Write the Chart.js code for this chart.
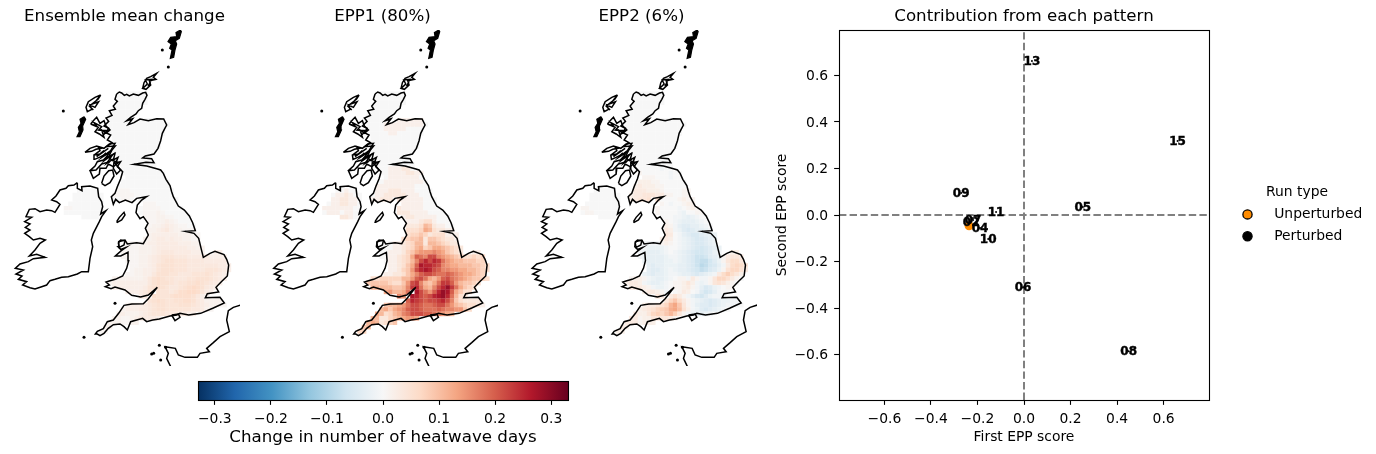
<!DOCTYPE html>
<html><head><meta charset="utf-8">
<style>html,body{margin:0;background:#fff;overflow:hidden}canvas{position:absolute}</style>
<script src="https://cdn.jsdelivr.net/npm/chart.js@4"></script></head>
<body>
<canvas id="m1" style="left:0;top:0" width="249" height="370"></canvas>
<canvas id="m2" style="left:258px;top:0" width="249" height="370"></canvas>
<canvas id="m3" style="left:517px;top:0" width="249" height="370"></canvas>
<canvas id="cb" style="left:180px;top:370px" width="400" height="84"></canvas>
<canvas id="sc" style="left:760px;top:0" width="616" height="454"></canvas>
<script>
const panelTitles=["Ensemble mean change","EPP1 (80%)","EPP2 (6%)"];
const colourbarLabel="Change in number of heatwave days";
const colourbarTicks=[-0.3,-0.2,-0.1,0,0.1,0.2,0.3];
const colourLimit=0.33;
const rdBuStops=["#053061","#2166ac","#4393c3","#92c5de","#d1e5f0","#f7f7f7","#fddbc7","#f4a582","#d6604d","#b2182b","#67001f"];

// Cell values: '.' no data, digits/letters are levels; lower case a=10.., upper case A=-1..; level x step = value
const ensembleStep=0.007, epp1Step=0.018, epp2Step=0.01;
const northRows=[
".....0000000",".....0000000",".....0000000","....0000000","....000000","...000000","...00000..000000",
"...00000000000000","...0000000000000","...0000000000000","....00000000000","....00000000000","....00000000000",
"....0000000000",".....00000000",".....00000000",".....000000000"];
const ensembleRows=northRows.concat([
"......00000000","......0000000000",".......000000000","......00000000000",".....000000000000",
".....1110000000000","....11111000000000","....00110.000000000","...........11100000",
"..........0111100000","..........01112100000","...........11122110000","............1122321000",
"............12234321100","............22345322111","............233333322211","...........2234434332211",
".......11112334444433322",".......111222344444443322","......1111222345554444332..33",
"......111122345666555444443333",".......11122345677666555544444","........11223467776665555555443",
"........12233467776665555666543",".......11223357776655566676543","....22222223578766555667776543",
"...23333333357877656677876543","....333333346787655678987543",".......333457.7665688998643",
"..........45.8766788887532","............67876677887542222",".......23334567766677765432211",
"......233344567766666655421",".....332223456665554433","....22112344443","...2221122","..22",".11"]);
const epp1Rows=[
".....0000000",".....0000000",".....0000000","....0000000","....000000","...000000","...00000..111111",
"...00001111111110","...0000111110000","...0000011000000","....00000000000","....00000000000","....00000000000",
"....0000000000",".....00000000",".....00000000",".....000000000",
"......00111220","......0011112211",".......011111110","......01111111110",".....111111111000",
".....1112221110000","....01122222111000","....11222.211111000","...........11111000",
"..........2111110000","..........22211110000","...........12211111000","............1112331000",
"............22236521100","............33347632211","............344542333111","...........3455625543221",
".......00112346626654322",".......001123467457765432","......0011124578889875432..11",
"......00112347ba9cc98765433434",".......01123469ceceda876655544","........112357bfeedc98776665543",
"........112458cefecb99887766543",".......11223579bccbaaba9877654","....3344444668bca768bca98765543",
"...5555543358cd9657addb865543","....666665569dea769cegda7543",".......78667a.fca8begfb7533",
"..........98.fecbcefgea632","............bedcbccdec9532222",".......56678accbaabcca86543321",
"......675789bccbaaaba998853",".....7634679acccbba9876","....66224567887","...6762345","..56",".44"];
const epp2Rows=northRows.concat([
"......00000A00","......1000000A00",".......111000A00","......22211000000",".....232221100000",
".....3332221000011","....23344433110011","....23445.500001211","...........10A00122",
"..........10000A0121","..........10000AB0011","...........000AABCBA00","............10ABCCCBA0",
"............21ACDDCCBA0","............32ABDEDCCBA","............430ACDEEDCCB","...........2320ABCDEEDCB",
".......AAAA1210ABCDEEDCB",".......ABBBBA00ABCDEFEDCB","......ABCCCBA0ABCDEFFEDBA..22",
"......ABCCCCBAABCDEGGFDCB13443",".......BCCCCBBABCDEGHHFDB14664","........CDCCBBBCCDEGIHFECA36764",
"........CDDCBABCCDEFHGEDB157753",".......BCDCCBAABCCDEDCBA368642","....1221ABCCBA011A31AA14775310",
"...2332ABCCBA011242ABA1454210","....33321ABBA011231ACEDBA011",".......23321A.01320ADFECA00",
"..........43.3531ACEFDBAAA","............479631ABCDEDCBBAA",".......233457bd941ACDDEDCBAAA0",
"......2345789cda52ABDEDCBA0",".....32247879b841ABCCBA","....33122444431","...3331222","..32",".22"]);
// Northern Ireland block: begins at grid row 22, seven columns west of Great Britain block
const niEnsemble=["...00000.","..0000000","..0000000",".00000000","110000000","000000000","....0000."];
const niEpp1=["...00100.","..0112100","..1122110",".01122110","111111100","011101100","....2210."];
const niEpp2=["...00000.","..0000000","..0000000",".00000000","110000000","011000000","....0000."];

// Coast outlines in map units
const coastGB=[[350,222],[358,216],[365,219],[373,226],[380,223],[388,228],[400,222],[415,226],[428,219],[437,217],[441,226],[435,238],[428,250],[425,265],[415,272],[408,282],[392,292],[380,302],[398,296],[384,314],[402,308],[420,297],[445,302],[470,296],[491,297],[500,315],[493,328],[487,340],[482,362],[474,385],[462,402],[436,408],[428,414],[455,416],[462,428],[438,427],[402,433],[440,438],[470,446],[482,450],[490,460],[498,478],[510,497],[515,515],[520,530],[535,558],[553,570],[568,588],[578,608],[586,632],[556,634],[582,640],[596,655],[604,688],[610,712],[630,700],[645,694],[672,704],[680,718],[686,735],[682,768],[664,785],[648,802],[656,816],[622,821],[616,833],[660,832],[673,849],[640,864],[602,880],[566,885],[540,880],[530,885],[510,888],[478,897],[458,900],[440,905],[428,895],[410,900],[392,905],[382,930],[372,920],[360,912],[340,914],[325,925],[312,940],[300,947],[292,942],[286,942],[292,934],[310,926],[322,905],[340,900],[356,880],[372,856],[396,852],[430,851],[445,836],[472,802],[445,825],[422,831],[395,826],[375,810],[345,801],[333,806],[316,800],[328,795],[318,786],[330,782],[346,778],[368,768],[380,745],[386,722],[384,697],[362,708],[346,708],[364,692],[378,682],[362,688],[354,680],[356,665],[375,660],[382,672],[410,668],[430,671],[445,645],[436,625],[444,610],[430,590],[420,596],[408,578],[412,555],[425,540],[440,530],[410,535],[396,548],[376,540],[358,548],[347,538],[340,553],[334,530],[345,520],[352,500],[362,476],[368,455],[352,440],[362,425],[348,428],[354,412],[340,420],[345,400],[326,410],[336,390],[346,378],[320,380],[336,368],[322,360],[332,345],[318,338],[326,325],[312,318],[326,304],[318,294],[336,286],[328,272],[346,268],[340,258],[352,244],[345,238],[350,222]];
const coastIreland=[[232,488],[222,495],[205,497],[198,505],[180,510],[168,528],[155,540],[170,545],[180,553],[172,566],[165,577],[155,572],[140,570],[120,575],[105,566],[88,568],[78,590],[95,592],[74,605],[90,612],[76,622],[90,630],[74,640],[88,650],[100,660],[120,655],[136,660],[120,670],[105,690],[88,708],[110,703],[135,712],[100,716],[85,725],[60,732],[46,745],[70,750],[48,762],[66,768],[55,778],[80,785],[68,795],[90,803],[105,807],[125,800],[140,795],[150,782],[165,778],[185,772],[205,770],[232,762],[245,755],[265,755],[270,715],[278,680],[274,660],[280,640],[298,605],[305,590],[318,572],[302,582],[308,560],[305,545],[296,530],[293,505],[270,498],[245,500],[246,512],[232,505],[232,488]];
const coastMan=[[350,605],[358,592],[372,577],[375,585],[365,600],[352,607],[350,605]];
const coastWight=[[515,885],[535,882],[540,892],[525,902],[515,885]];
const coastAnglesey=[[355,668],[362,660],[375,662],[372,675],[358,682],[355,668]];
const coastHebrides=[[302,225],[285,232],[265,245],[258,262],[262,275],[275,268],[270,255],[285,262],[296,245],[282,250],[302,225],[294,238],[268,258],[280,270]];
const coastSkye=[[272,312],[282,300],[290,292],[300,310],[312,302],[318,318],[330,330],[318,340],[305,330],[312,352],[298,342],[285,335],[295,322],[272,312],[290,318],[282,308],[305,320],[296,330],[322,332],[310,345]];
const coastMull=[[255,397],[270,385],[290,378],[303,385],[288,388],[275,394],[255,397]];
const coastArgyll=[[282,405],[300,392],[296,380],[312,385],[328,372],[345,370],[332,392],[318,402],[298,412],[284,418],[282,405],[300,402],[312,392],[290,410],[325,385]];
const coastLorn=[[318,398],[305,412],[330,396],[312,422],[338,404],[320,430],[342,416]];
const coastJura=[[270,452],[285,438],[292,425],[310,420],[322,408],[335,420],[355,428],[340,440],[325,432],[318,445],[300,445],[298,462],[280,475],[270,452],[288,450],[305,432],[330,425]];
const coastKintyre=[[305,490],[312,468],[326,452],[338,450],[342,468],[330,488],[315,497],[305,490]];
const coastBute=[[342,425],[352,438],[362,450],[350,462],[340,445],[342,425]];
const coastOrkney=[[428,205],[432,188],[440,175],[452,170],[470,160],[460,172],[468,178],[448,182],[452,195],[438,208],[428,205],[442,192],[436,180],[455,178],[444,200]];
const coastFrance=[[722,855],[700,862],[685,872],[680,900],[688,935],[660,950],[640,968],[620,985],[628,995],[600,1000],[592,1012],[555,1012],[535,1005],[526,985],[495,980],[505,1000],[500,1015],[512,1040]];
const coastUist=[[252,290],[240,298],[243,310],[235,322],[238,335],[231,350],[240,350],[249,330],[248,318],[257,298],[252,290]];
const coastShetland=[[541,30],[528,38],[530,50],[512,52],[504,65],[514,72],[509,85],[516,90],[511,115],[521,112],[525,90],[530,72],[526,62],[538,55],[544,35],[541,30]];
const smallIslands=[[190,273],[487,90],[505,141],[345,850],[252,952],[461,1000],[455,1002],[478,976],[482,1020],[497,982]];
const coasts=[coastGB,coastIreland,coastMan,coastWight,coastAnglesey,coastHebrides,coastSkye,coastMull,coastArgyll,coastLorn,coastJura,coastKintyre,coastBute,coastOrkney,coastFrance];
const solidIslands=[coastUist,coastShetland];

// Contribution panel
const scatterTitle="Contribution from each pattern";
const xLabel="First EPP score", yLabel="Second EPP score";
const legendTitle="Run type", legendNames=["Unperturbed","Perturbed"];
const memberNames=["02","04","05","06","07","08","09","10","11","13","15"];
const memberX=[-0.227,-0.189,0.253,-0.004,-0.219,0.45,-0.27,-0.154,-0.12,0.034,0.66];
const memberY=[-0.030,-0.056,0.034,-0.31,-0.022,-0.585,0.095,-0.103,0.013,0.662,0.318];
const unperturbedX=[-0.236], unperturbedY=[-0.046];
const axisLimit=0.795;

const FONT="'DejaVu Sans'";
Chart.defaults.font.family=FONT;
Chart.defaults.color="#000";
Chart.defaults.animation=false;
Chart.defaults.responsive=false;

function lerpHex(a,b,t){const p=h=>[1,3,5].map(i=>parseInt(h.substr(i,2),16));const A=p(a),B=p(b);
  return "rgb("+A.map((v,i)=>Math.round(v+(B[i]-v)*t)).join(",")+")";}
function colourFor(v){let n=(v+colourLimit)/(2*colourLimit)*10;n=Math.max(0,Math.min(9.999,n));const i=Math.floor(n);
  return lerpHex(rdBuStops[i],rdBuStops[i+1],n-i);}
function level(c){if(c>="0"&&c<="9")return +c;if(c>="a"&&c<="z")return c.charCodeAt(0)-87;return -(c.charCodeAt(0)-64);}
const GX=284,GY=215,CELL=13.2;
function cells(rows,step,startCol,startRow){const out=[];rows.forEach((r,j)=>{[...r].forEach((c,i)=>{if(c===".")return;
  out.push({x:GX+(startCol+i+0.5)*CELL,y:GY+(startRow+j+0.5)*CELL,v:level(c)*step});});});return out;}
const toXY=a=>a.map(p=>({x:p[0],y:p[1]}));

const frame={id:"frame",afterDraw(ch){const a=ch.chartArea,c=ch.ctx;c.save();c.strokeStyle="#000";c.lineWidth=1.1;
  c.strokeRect(Math.round(a.left)+.5,Math.round(a.top)+.5,Math.round(a.right-a.left),Math.round(a.bottom-a.top));c.restore();}};

function mapChart(id,title,data,shift){
  const ds=[{type:"scatter",data:data,order:3,pointStyle:"rect",pointRadius:3.28,pointBorderWidth:0,pointHoverRadius:3.28,
      pointBackgroundColor:data.map(d=>colourFor(d.v))}];
  coasts.forEach(c=>ds.push({type:"scatter",showLine:true,data:toXY(c),order:1,borderColor:"#000",borderWidth:1.5,pointRadius:0,fill:false,tension:0}));
  solidIslands.forEach(c=>ds.push({type:"scatter",showLine:true,data:toXY(c),order:1,borderColor:"#000",backgroundColor:"#000",borderWidth:1.2,pointRadius:0,fill:"shape",tension:0}));
  ds.push({type:"scatter",data:toXY(smallIslands),order:1,pointRadius:1.5,pointBackgroundColor:"#000",pointBorderWidth:0});
  new Chart(document.getElementById(id),{type:"scatter",data:{datasets:ds},options:{
    layout:{padding:{left:9,right:9,bottom:4,top:0}},
    plugins:{legend:{display:false},tooltip:{enabled:false},
      title:{display:true,text:title,font:{size:16.67,weight:"normal"},padding:{top:6.5,bottom:3.5},color:"#000"}},
    scales:{x:{type:"linear",display:false,min:27-shift,max:720-shift},
            y:{type:"linear",display:false,reverse:true,min:30,max:1038}}}});
}
mapChart("m1",panelTitles[0],cells(ensembleRows,ensembleStep,0,0).concat(cells(niEnsemble,ensembleStep,-7,22)),0);
mapChart("m2",panelTitles[1],cells(epp1Rows,epp1Step,0,0).concat(cells(niEpp1,epp1Step,-7,22)),1.2);
mapChart("m3",panelTitles[2],cells(epp2Rows,epp2Step,0,0).concat(cells(niEpp2,epp2Step,-7,22)),-0.6);

// Colour bar
new Chart(document.getElementById("cb"),{type:"bar",
  data:{labels:[""],datasets:[{data:[[-colourLimit,colourLimit]],barPercentage:1,categoryPercentage:1,borderSkipped:false,
    backgroundColor(ctx){const a=ctx.chart.chartArea;if(!a)return "#fff";const g=ctx.chart.ctx.createLinearGradient(a.left,0,a.right,0);
      rdBuStops.forEach((c,i)=>g.addColorStop(i/10,c));return g;}}]},
  options:{indexAxis:"y",layout:{padding:{left:18,right:12,top:11,bottom:0}},
    plugins:{legend:{display:false},tooltip:{enabled:false}},
    scales:{y:{display:false},
      x:{type:"linear",min:-colourLimit,max:colourLimit,afterFit(s){s.height=54;},
        afterBuildTicks(s){s.ticks=colourbarTicks.map(v=>({value:v}));},
        grid:{drawOnChartArea:false,tickLength:4.86,tickColor:"#000",tickWidth:1.1},border:{display:false},
        ticks:{maxRotation:0,autoSkip:false,padding:6,font:{size:13.89},color:"#000",callback:v=>(v<0?"\u2212":"")+Math.abs(v).toFixed(1)},
        title:{display:true,text:colourbarLabel,font:{size:16.67},color:"#000",padding:{top:0,bottom:6}}}}},
  plugins:[frame]});

// Scatter
const memberLabelsPlugin={id:"memberLabels",afterDatasetsDraw(ch){const c=ch.ctx,x=ch.scales.x,y=ch.scales.y;c.save();
  c.font="bold 12px "+FONT;c.fillStyle="#000";c.strokeStyle="#000";c.lineWidth=0.4;c.textAlign="center";c.textBaseline="middle";
  memberNames.forEach((n,i)=>{const px=x.getPixelForValue(memberX[i]),py=y.getPixelForValue(memberY[i])+1;c.fillText(n,px,py);c.strokeText(n,px,py);});c.restore();}};
const legendPlace={id:"legendPlace",
  beforeLayout(ch){const l=ch.legend;if(l&&!l._fixed){const f=l.fit.bind(l);l.fit=function(){f();l.width=167;};l._fixed=true;}},
  afterLayout(ch){const l=ch.legend;l.left=473;l.width=128;l.right=601;l.top-=8.5;l.bottom-=8.5;}};
const axisOpts=(label,pad,labelShift)=>({type:"linear",min:-axisLimit,max:axisLimit,
  grid:{drawOnChartArea:false,tickLength:4.86,tickColor:"#000",tickWidth:1.1},border:{display:false},
  ticks:{stepSize:0.2,includeBounds:false,padding:6,labelOffset:labelShift,font:{size:13.89},color:"#000",maxRotation:0,
    callback:v=>(v<-0.001?"\u2212":"")+Math.abs(v).toFixed(1)},
  title:{display:true,text:label,font:{size:13.89},color:"#000",padding:pad}});
new Chart(document.getElementById("sc"),{type:"scatter",data:{datasets:[
  {label:legendNames[0],order:2,data:unperturbedX.map((v,i)=>({x:v,y:unperturbedY[i]})),pointRadius:4.5,pointBorderWidth:0,pointBackgroundColor:"#ff8c00",backgroundColor:"#ff8c00",borderColor:"#000"},
  {label:legendNames[1],order:2,data:memberX.map((v,i)=>({x:v,y:memberY[i]})),pointRadius:1,pointBorderWidth:0,pointBackgroundColor:"#000",backgroundColor:"#000",borderColor:"#000"},
  {label:"h",order:3,showLine:true,data:[{x:-axisLimit,y:0},{x:axisLimit,y:0}],borderColor:"#808080",borderWidth:2,borderDash:[7.4,3.2],pointRadius:0},
  {label:"v",order:3,showLine:true,data:[{x:0,y:-axisLimit},{x:0,y:axisLimit}],borderColor:"#808080",borderWidth:2,borderDash:[7.4,3.2],pointRadius:0}
]},options:{
  layout:{padding:0},
  plugins:{tooltip:{enabled:false},
    title:{display:true,fullSize:false,text:scatterTitle,font:{size:16.67,weight:"normal"},padding:{top:6.5,bottom:3.5},color:"#000"},
    legend:{position:"right",
      title:{display:true,text:legendTitle,font:{size:13.89},color:"#000",padding:{top:0,bottom:-3}},
      labels:{usePointStyle:true,boxWidth:13,boxHeight:6.5,font:{size:13.89},color:"#000",padding:8,
        generateLabels(ch){return ch.data.datasets.slice(0,2).map((d,i)=>({text:"   "+d.label,fillStyle:d.backgroundColor,strokeStyle:"#000",lineWidth:1.3,pointStyle:"circle",datasetIndex:i,hidden:false}));}}}},
  scales:{x:Object.assign(axisOpts(xLabel,{top:0,bottom:8},0),{afterFit(s){s.height=54;}}),
          y:Object.assign(axisOpts(yLabel,{top:14,bottom:0},1),{afterFit(s){s.width=79;}})}},
  plugins:[frame,memberLabelsPlugin,legendPlace]});
</script>
</body></html>
